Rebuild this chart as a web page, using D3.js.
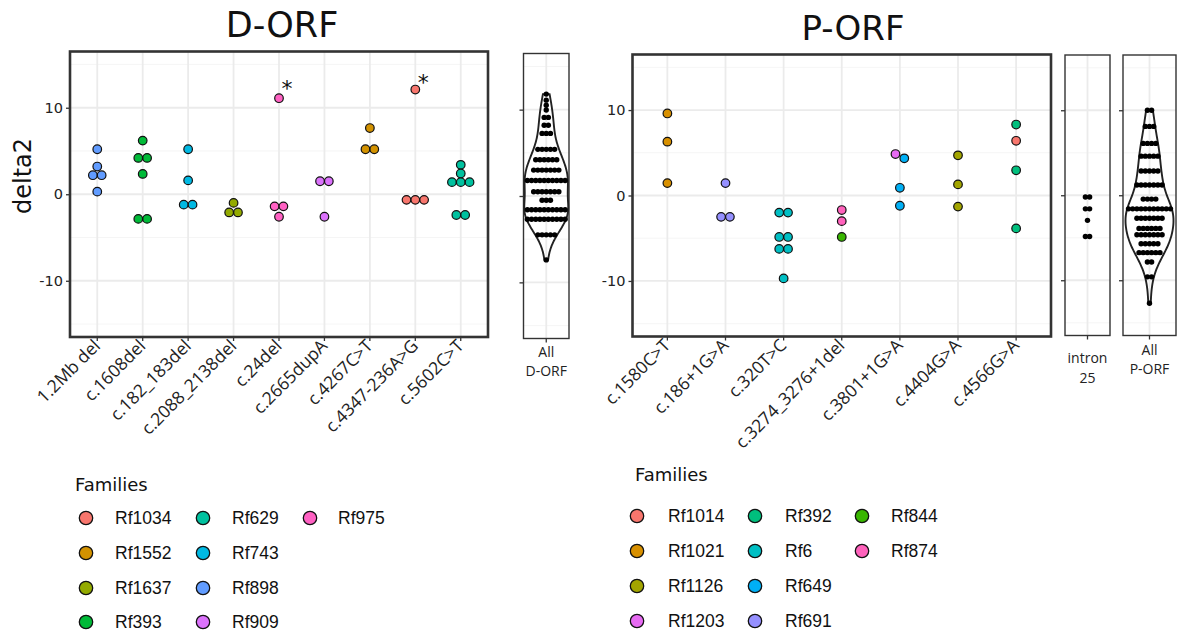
<!DOCTYPE html>
<html>
<head>
<meta charset="utf-8">
<script src="https://cdn.jsdelivr.net/npm/d3@7"></script>
<style>
  body { margin: 0; background: #fff; }
  svg { display: block; }
</style>
</head>
<body>
<div id="chart"></div>
<script>
// ---- data ----
const yTicks = [-10, 0, 10];
const yMinor = [-15, -5, 5, 15];

const dorfCats = ["1.2Mb del", "c.1608del", "c.182_183del", "c.2088_2138del", "c.24del",
  "c.2665dupA", "c.4267C>T", "c.4347-236A>G", "c.5602C>T"];
const dorfFamilies = ["Rf1034", "Rf1552", "Rf1637", "Rf393", "Rf629", "Rf743", "Rf898", "Rf909", "Rf975"];
const dorfColors = ["#F8766D", "#D39200", "#93AA00", "#00BA38", "#00C19F", "#00B9E3", "#619CFF", "#DB72FB", "#FF61C3"];
// [variant, family, delta2]
const dorfPoints = [
  ["1.2Mb del", "Rf898", 5.2], ["1.2Mb del", "Rf898", 3.2], ["1.2Mb del", "Rf898", 2.2],
  ["1.2Mb del", "Rf898", 2.2], ["1.2Mb del", "Rf898", 0.3],
  ["c.1608del", "Rf393", 6.2], ["c.1608del", "Rf393", 4.2], ["c.1608del", "Rf393", 4.2],
  ["c.1608del", "Rf393", 2.35], ["c.1608del", "Rf393", -2.85], ["c.1608del", "Rf393", -2.85],
  ["c.182_183del", "Rf743", 5.2], ["c.182_183del", "Rf743", 1.6], ["c.182_183del", "Rf743", -1.2],
  ["c.182_183del", "Rf743", -1.2],
  ["c.2088_2138del", "Rf1637", -1.0], ["c.2088_2138del", "Rf1637", -2.1], ["c.2088_2138del", "Rf1637", -2.1],
  ["c.24del", "Rf975", 11.1], ["c.24del", "Rf975", -1.4], ["c.24del", "Rf975", -1.4], ["c.24del", "Rf975", -2.6],
  ["c.2665dupA", "Rf909", 1.5], ["c.2665dupA", "Rf909", 1.5], ["c.2665dupA", "Rf909", -2.6],
  ["c.4267C>T", "Rf1552", 7.65], ["c.4267C>T", "Rf1552", 5.2], ["c.4267C>T", "Rf1552", 5.2],
  ["c.4347-236A>G", "Rf1034", 12.1], ["c.4347-236A>G", "Rf1034", -0.65], ["c.4347-236A>G", "Rf1034", -0.65],
  ["c.4347-236A>G", "Rf1034", -0.65],
  ["c.5602C>T", "Rf629", 3.4], ["c.5602C>T", "Rf629", 2.4], ["c.5602C>T", "Rf629", 1.4],
  ["c.5602C>T", "Rf629", 1.4], ["c.5602C>T", "Rf629", 1.4], ["c.5602C>T", "Rf629", -2.4],
  ["c.5602C>T", "Rf629", -2.4]
];
// [variant, y of the star]
const dorfStars = [["c.24del", 12.9], ["c.4347-236A>G", 13.6]];

// "All D-ORF" dot rows: value of the row and number of dots in it
const allDRows = [11.8, 11.1, 10.5, 9.95, 9.1, 8.2, 7.25, 5.4, 4.2, 3.0, 1.8, 0.5, -0.5, -1.6, -2.7, -4.5, -7.4];
const allDCounts = [1, 1, 1, 1, 2, 2, 3, 5, 6, 7, 10, 7, 3, 10, 10, 5, 1];

const porfCats = ["c.1580C>T", "c.186+1G>A", "c.320T>C", "c.3274_3276+1del", "c.3801+1G>A", "c.4404G>A", "c.4566G>A"];
const porfFamilies = ["Rf1014", "Rf1021", "Rf1126", "Rf1203", "Rf392", "Rf6", "Rf649", "Rf691", "Rf844", "Rf874"];
const porfColors = ["#F8766D", "#D89000", "#A3A500", "#E76BF3", "#00BF7D", "#00BFC4", "#00B0F6", "#9590FF", "#39B600", "#FF62BC"];
const porfPoints = [
  ["c.1580C>T", "Rf1021", 9.6], ["c.1580C>T", "Rf1021", 6.3], ["c.1580C>T", "Rf1021", 1.45],
  ["c.186+1G>A", "Rf691", 1.45], ["c.186+1G>A", "Rf691", -2.5], ["c.186+1G>A", "Rf691", -2.5],
  ["c.320T>C", "Rf6", -2.0], ["c.320T>C", "Rf6", -2.0], ["c.320T>C", "Rf6", -4.85], ["c.320T>C", "Rf6", -4.85],
  ["c.320T>C", "Rf6", -6.25], ["c.320T>C", "Rf6", -6.25], ["c.320T>C", "Rf6", -9.7],
  ["c.3274_3276+1del", "Rf874", -1.7], ["c.3274_3276+1del", "Rf874", -3.0], ["c.3274_3276+1del", "Rf844", -4.85],
  ["c.3801+1G>A", "Rf1203", 4.85], ["c.3801+1G>A", "Rf649", 4.35], ["c.3801+1G>A", "Rf649", 0.9],
  ["c.3801+1G>A", "Rf649", -1.2],
  ["c.4404G>A", "Rf1126", 4.7], ["c.4404G>A", "Rf1126", 1.3], ["c.4404G>A", "Rf1126", -1.3],
  ["c.4566G>A", "Rf392", 8.3], ["c.4566G>A", "Rf1014", 6.4], ["c.4566G>A", "Rf392", 2.95], ["c.4566G>A", "Rf392", -3.85]
];

const intronRows = [-0.2, -1.6, -2.95, -4.85];
const intronCounts = [2, 2, 1, 2];

const allPRows = [10.0, 8.1, 6.1, 4.6, 2.85, 1.2, -0.45, -1.6, -2.7, -3.9, -4.65, -5.7, -6.75, -7.85, -9.6, -12.7];
const allPCounts = [2, 3, 4, 5, 5, 7, 4, 11, 7, 6, 7, 5, 6, 2, 2, 1];

// ---- drawing ----
const width = 1182, height = 637;
const svg = d3.select("#chart").append("svg")
  .attr("width", width)
  .attr("height", height)
  .style("font-family", "'DejaVu Sans', sans-serif");

const gridMajor = "#EBEBEB", gridMinor = "#F4F4F4", ink = "#333333";

function expandRows(rows, counts) {
  const out = [];
  rows.forEach((v, i) => d3.range(counts[i]).forEach(j => out.push({v, j, n: counts[i]})));
  return out;
}

// panel frame with grid and y ticks; returns the y scale
function drawFrame(box, xs, opts) {
  const y = d3.scaleLinear().domain([-16.5, 16.5]).range([box.y1, box.y0]);
  const g = svg.append("g");

  g.selectAll(".minor").data(yMinor).join("line")
    .attr("x1", box.x0).attr("x2", box.x1)
    .attr("y1", d => y(d)).attr("y2", d => y(d))
    .attr("stroke", gridMinor).attr("stroke-width", 0.9);
  g.selectAll(".major").data(yTicks).join("line")
    .attr("x1", box.x0).attr("x2", box.x1)
    .attr("y1", d => y(d)).attr("y2", d => y(d))
    .attr("stroke", gridMajor).attr("stroke-width", 1.8);
  g.selectAll(".vx").data(xs).join("line")
    .attr("x1", d => d).attr("x2", d => d)
    .attr("y1", box.y0).attr("y2", box.y1)
    .attr("stroke", gridMajor).attr("stroke-width", 1.8);

  // y axis
  const ay = svg.append("g").attr("transform", `translate(${box.x0},0)`)
    .call(d3.axisLeft(y).tickValues(yTicks).tickSize(4).tickPadding(3)
      .tickFormat(opts.yLabels ? (d => String(d)) : ""));
  ay.select(".domain").remove();
  ay.selectAll("line").attr("stroke", ink).attr("stroke-width", 1.3);
  ay.selectAll("text").attr("fill", "#222").style("font-size", "14.5px")
    .style("font-family", "'DejaVu Sans', sans-serif");

  // x ticks
  svg.append("g").selectAll("line").data(xs).join("line")
    .attr("x1", d => d).attr("x2", d => d)
    .attr("y1", box.y1).attr("y2", box.y1 + 4)
    .attr("stroke", ink).attr("stroke-width", 1.3);

  svg.append("rect")
    .attr("x", box.x0).attr("y", box.y0)
    .attr("width", box.x1 - box.x0).attr("height", box.y1 - box.y0)
    .attr("fill", "none").attr("stroke", ink).attr("stroke-width", opts.border);
  return y;
}

function drawMain(box, cats, points, families, colors) {
  const x = d3.scalePoint().domain(cats).range([box.x0, box.x1]).padding(0.6);
  const color = d3.scaleOrdinal().domain(families).range(colors);
  const y = drawFrame(box, cats.map(x), {yLabels: true, border: 2.6});

  // simple centred swarm: neighbouring values share a row
  const placed = [];
  const d = 8.8;
  cats.forEach(c => {
    const pts = points.filter(p => p[0] === c).sort((a, b) => b[2] - a[2]);
    let groups = [];
    pts.forEach(p => {
      const last = groups[groups.length - 1];
      if (last && Math.abs(last[last.length - 1][2] - p[2]) < 0.6) last.push(p);
      else groups.push([p]);
    });
    groups.forEach(gr => gr.forEach((p, i) => {
      placed.push({cx: x(c) + (i - (gr.length - 1) / 2) * d, cy: y(p[2]), fam: p[1]});
    }));
  });

  svg.append("g").selectAll("circle").data(placed).join("circle")
    .attr("cx", p => p.cx).attr("cy", p => p.cy).attr("r", 4.3)
    .attr("fill", p => color(p.fam))
    .attr("stroke", "#111").attr("stroke-width", 1.2);

  // rotated variant labels
  svg.append("g").selectAll("text").data(cats).join("text")
    .attr("transform", c => `translate(${x(c) + 4},${box.y1 + 10}) rotate(-45)`)
    .attr("text-anchor", "end")
    .attr("fill", "#222")
    .style("font-family", "'Open Sans', sans-serif")
    .style("font-size", "17.5px")
    .text(c => c);
  return {x, y};
}

function drawDots(box, rows, counts, labels, labelYs, violin, halfWidth) {
  const cx = (box.x0 + box.x1) / 2;
  const y = drawFrame(box, [cx], {yLabels: false, border: 1.4});
  const pts = expandRows(rows, counts);

  if (violin) {
    const vals = pts.map(p => p.v);
    const sorted = vals.slice().sort(d3.ascending);
    const sd = d3.deviation(vals);
    const iqr = d3.quantile(sorted, 0.75) - d3.quantile(sorted, 0.25);
    const bw = 0.9 * Math.min(sd, iqr / 1.34) * Math.pow(vals.length, -0.2);
    const [lo, hi] = d3.extent(vals);
    const grid = d3.range(0, 101).map(i => lo + (hi - lo) * i / 100);
    const dens = grid.map(t => [t, d3.mean(vals, v => Math.exp(-0.5 * ((t - v) / bw) ** 2))]);
    const w = d3.scaleLinear().domain([0, d3.max(dens, e => e[1])]).range([0, halfWidth]);
    const area = d3.area().curve(d3.curveBasis)
      .y(e => y(e[0]))
      .x0(e => cx - w(e[1])).x1(e => cx + w(e[1]));
    svg.append("path").datum(dens).attr("d", area)
      .attr("fill", "none").attr("stroke", "#222").attr("stroke-width", 1.9);
  }

  svg.append("g").selectAll("circle").data(pts).join("circle")
    .attr("cx", p => cx + (p.j - (p.n - 1) / 2) * 4.2)
    .attr("cy", p => y(p.v))
    .attr("r", 2.7).attr("fill", "#000");

  svg.append("g").selectAll("text").data(labels).join("text")
    .attr("x", cx).attr("y", (l, i) => labelYs[i])
    .attr("text-anchor", "middle").attr("fill", "#222")
    .style("font-family", "'Open Sans', sans-serif").style("font-size", "14px")
    .text(l => l);
}

function drawLegend(x0, y0, families, colors, colX, textX, rowYs) {
  svg.append("text").attr("x", x0).attr("y", y0)
    .attr("fill", "#111").style("font-size", "18px").text("Families");
  const g = svg.append("g");
  families.forEach((f, i) => {
    const col = Math.floor(i / 4), row = i % 4;
    g.append("circle").attr("cx", colX[col]).attr("cy", rowYs[row]).attr("r", 6.7)
      .attr("fill", colors[i]).attr("stroke", "#111").attr("stroke-width", 1.3);
    g.append("text").attr("x", textX[col]).attr("y", rowYs[row] + 6)
      .attr("fill", "#111")
      .style("font-family", "'Liberation Sans', Arial, sans-serif").style("font-size", "17.5px")
      .text(f);
  });
}

// D-ORF
const left = drawMain({x0: 70, x1: 488, y0: 51.5, y1: 337}, dorfCats, dorfPoints, dorfFamilies, dorfColors);
svg.append("g").selectAll("text").data(dorfStars).join("text")
  .attr("x", s => left.x(s[0]) + 8)
  .attr("y", s => left.y(s[1]) + 13)
  .attr("text-anchor", "middle").attr("fill", "#111")
  .style("font-size", "22px").text("*");
drawDots({x0: 523.5, x1: 569, y0: 53.5, y1: 338.5}, allDRows, allDCounts, ["All", "D-ORF"], [357, 376], true, 22);

svg.append("text").attr("x", 282).attr("y", 37).attr("text-anchor", "middle")
  .attr("fill", "#111").style("font-size", "35px").text("D-ORF");
svg.append("text").attr("transform", "translate(31,176) rotate(-90)")
  .attr("text-anchor", "middle").attr("fill", "#111").style("font-size", "24px").text("delta2");

// P-ORF
drawMain({x0: 632.5, x1: 1051, y0: 54.5, y1: 336.5}, porfCats, porfPoints, porfFamilies, porfColors);
drawDots({x0: 1065, x1: 1110, y0: 55, y1: 335.5}, intronRows, intronCounts, ["intron", "25"], [363, 383], false, 0);
drawDots({x0: 1123, x1: 1176, y0: 55, y1: 335.5}, allPRows, allPCounts, ["All", "P-ORF"], [355, 374], true, 24);

svg.append("text").attr("x", 853).attr("y", 40).attr("text-anchor", "middle")
  .attr("fill", "#111").style("font-size", "34px").text("P-ORF");

drawLegend(75, 491, dorfFamilies, dorfColors, [86, 203, 310], [115, 232, 338], [518, 553, 588, 622]);
drawLegend(635, 481, porfFamilies, porfColors, [637, 755, 862], [668, 785, 891], [516, 551, 586, 621]);
</script>
</body>
</html>
